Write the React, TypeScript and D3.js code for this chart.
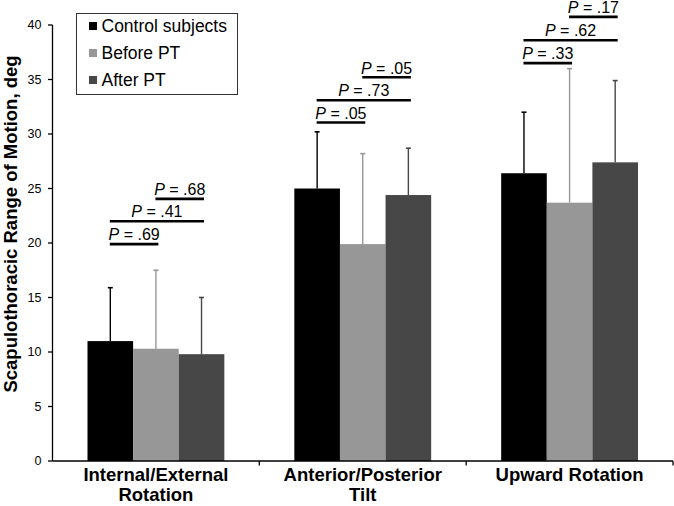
import React from "react";
import * as d3 from "d3";

const categories = ["Internal/External Rotation", "Anterior/Posterior Tilt", "Upward Rotation"];
const categoryLines = [["Internal/External", "Rotation"], ["Anterior/Posterior", "Tilt"], ["Upward Rotation"]];
const seriesNames = ["Control subjects", "Before PT", "After PT"];
const seriesColors = ["#000000", "#979797", "#474747"];
const controlValues = [11.0, 25.0, 26.4];
const controlErrors = [4.9, 5.2, 5.6];
const beforeValues = [10.3, 19.9, 23.7];
const beforeErrors = [7.2, 8.3, 12.3];
const afterValues = [9.8, 24.4, 27.4];
const afterErrors = [5.2, 4.3, 7.5];
const yTicks = [0, 5, 10, 15, 20, 25, 30, 35, 40];
const bracketFrom = [0, 0, 1];
const bracketTo = [1, 2, 2];
const pLabels = [[".69", ".41", ".68"], [".05", ".73", ".05"], [".33", ".62", ".17"]];
const bracketLevels = [[19.9, 22.0, 24.05], [31.05, 33.1, 35.2], [36.5, 38.6, 40.75]];

const seriesValues = [controlValues, beforeValues, afterValues];
const seriesErrors = [controlErrors, beforeErrors, afterErrors];

const W = 674, H = 506;
const left = 52.5, right = 673, top = 25, bottom = 461;
const FONT = "'Liberation Sans', Arial, Helvetica, sans-serif";

export default function App() {
  const y = d3.scaleLinear().domain([0, 40]).range([bottom, top]);
  const x0 = d3.scaleBand<string>().domain(categories).range([left, right]).padding(0);
  const bw = x0.bandwidth();
  const x1 = d3.scaleBand<string>().domain(seriesNames).range([35, bw - 35]).padding(0);
  const barW = x1.bandwidth();
  const center = (ci: number, si: number) => (x0(categories[ci]) as number) + (x1(seriesNames[si]) as number) + barW / 2;

  return (
    <div>
      <style>{`body{margin:0}`}</style>
      <svg width={W} height={H} style={{ display: "block", background: "#fff" }} fontFamily={FONT}>
        {/* bars */}
        {categories.map((c, ci) =>
          seriesNames.map((s, si) => {
            const v = seriesValues[si][ci];
            const e = seriesErrors[si][ci];
            const bx = (x0(c) as number) + (x1(s) as number);
            const cx = bx + barW / 2;
            return (
              <g key={c + s}>
                <line x1={cx} x2={cx} y1={y(v)} y2={y(v + e)} stroke={seriesColors[si]} strokeWidth={1.4} />
                <line x1={cx - 2.5} x2={cx + 2.5} y1={y(v + e)} y2={y(v + e)} stroke={seriesColors[si]} strokeWidth={1.6} />
                <rect x={bx} y={y(v)} width={barW} height={bottom - y(v)} fill={seriesColors[si]} />
              </g>
            );
          })
        )}
        {/* y axis */}
        <line x1={left} x2={left} y1={top} y2={bottom} stroke="#000" strokeWidth={1.3} />
        {yTicks.map((t) => (
          <g key={t}>
            <line x1={left - 4.5} x2={left} y1={y(t)} y2={y(t)} stroke="#000" strokeWidth={1.3} />
            <text x={41.5} y={y(t)} dy="0.35em" textAnchor="end" fontSize={12.5} fill="#000">{t}</text>
          </g>
        ))}
        {/* x axis */}
        <line x1={left} x2={right} y1={bottom} y2={bottom} stroke="#000" strokeWidth={1.3} />
        {categories.map((c) => (
          <line key={"t" + c} x1={(x0(c) as number) + bw} x2={(x0(c) as number) + bw} y1={bottom} y2={bottom + 4.5} stroke="#000" strokeWidth={1.3} />
        ))}
        {categories.map((c, ci) =>
          categoryLines[ci].map((ln, li) => (
            <text key={"l" + c + li} x={(x0(c) as number) + bw / 2} y={480.5 + li * 20.8} textAnchor="middle" fontSize={18.5} fontWeight="bold" fill="#000">
              {ln}
            </text>
          ))
        )}
        {/* y title */}
        <text transform={`translate(17,224) rotate(-90)`} textAnchor="middle" fontSize={18.5} fontWeight="bold" fill="#000">
          Scapulothoracic Range of Motion, deg
        </text>
        {/* brackets */}
        {categories.map((c, ci) =>
          pLabels[ci].map((p, bi) => {
            const xa = center(ci, bracketFrom[bi]) - 0.5;
            const xb = center(ci, bracketTo[bi]) + 2.5;
            const yy = y(bracketLevels[ci][bi]);
            return (
              <g key={c + bi}>
                <line x1={xa} x2={xb} y1={yy} y2={yy} stroke="#000" strokeWidth={2.6} />
                <text x={(xa + xb) / 2} y={yy - 3.8} textAnchor="middle" fontSize={16} fill="#000">
                  <tspan fontStyle="italic">P</tspan> = {p}
                </text>
              </g>
            );
          })
        )}
        {/* legend */}
        <rect x={76.5} y={13.5} width={161} height={81} fill="#fff" stroke="#333" strokeWidth={1} />
        {seriesNames.map((s, si) => (
          <g key={"lg" + s}>
            <rect x={89} y={26 + si * 27 - 4} width={8} height={8} fill={seriesColors[si]} />
            <text x={101.5} y={26 + si * 27} dy="0.36em" fontSize={17.5} fill="#000">{s}</text>
          </g>
        ))}
      </svg>
    </div>
  );
}
